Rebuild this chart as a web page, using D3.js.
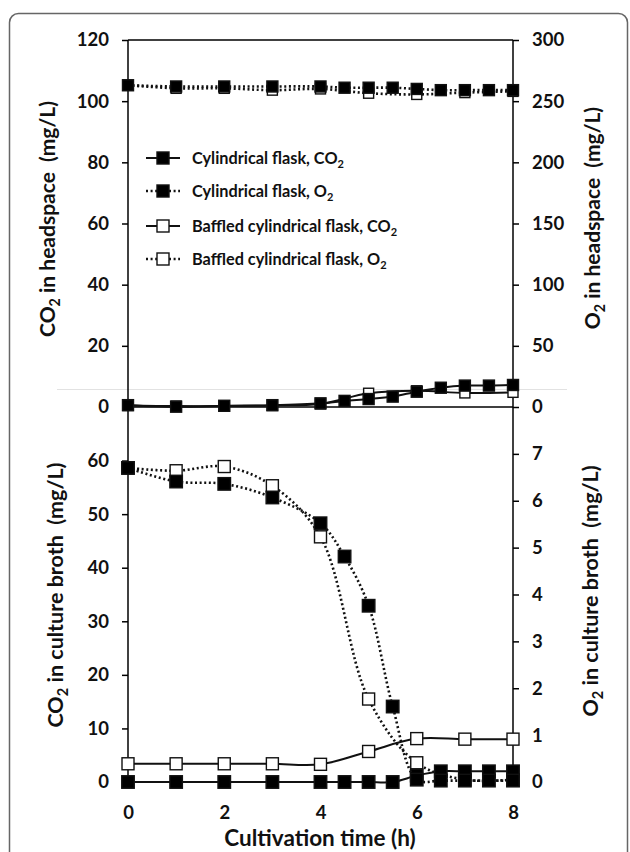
<!DOCTYPE html>
<html><head><meta charset="utf-8">
<script src="https://cdn.jsdelivr.net/npm/d3@7"></script>
<style>
html,body{margin:0;padding:0;background:#fff;}
svg{display:block;font-family:Lato,"Open Sans",sans-serif;font-weight:700;}
</style></head>
<body>
<svg id="chart" width="630" height="852"></svg>
<script>
// ---- data ----
const timeCyl = [0,1,2,3,4,4.5,5,5.5,6,6.5,7,7.5,8];
const timeBaf = [0,1,2,3,4,5,6,7,8];
// headspace (top panel)
const cylCO2Head = [0.6,0.1,0.4,0.6,1.2,2.0,2.6,3.4,5.0,6.3,7.0,7.0,7.2];
const cylO2Head  = [263,262,262,262,262,261,261,261,260,259,259,259,259];
const bafCO2Head = [0.5,0.3,0.3,0.5,1.0,4.5,5.3,4.6,4.8];
const bafO2Head  = [263,260.5,260.5,259,260,256.5,255.5,257,258];
// culture broth (bottom panel)
const cylCO2Broth = [0,0,0,0,0,0,0,0,1.2,2.0,2.0,2.0,2.0];
const cylO2Broth  = [6.70,6.41,6.36,6.07,5.52,4.81,3.76,1.61,0.05,0.03,0.03,0.03,0.03];
const bafCO2Broth = [3.4,3.4,3.4,3.4,3.3,5.7,8.1,8.0,8.0];
const bafO2Broth  = [6.70,6.64,6.73,6.32,5.23,1.77,0.41,0.05,0.05];
// ticks
const xTicks = [0,2,4,6,8];
const topLTicks = [0,20,40,60,80,100,120];
const topRTicks = [0,50,100,150,200,250,300];
const botLTicks = [0,10,20,30,40,50,60];
const botRTicks = [0,1,2,3,4,5,6,7];
const legendItems = [
  {name:"Cylindrical flask, CO", filled:true, dotted:false},
  {name:"Cylindrical flask, O", filled:true, dotted:true},
  {name:"Baffled cylindrical flask, CO", filled:false, dotted:false},
  {name:"Baffled cylindrical flask, O", filled:false, dotted:true}
];

const svg = d3.select("#chart");
// frame
svg.append("rect").attr("x",9.5).attr("y",13.5).attr("width",618).attr("height",880)
  .attr("rx",9).attr("fill","none").attr("stroke","#666").attr("stroke-width",1.5);

const x = d3.scaleLinear().domain([0,8]).range([128,513]);
const yTopL = d3.scaleLinear().domain([0,120]).range([407,40]);
const yTopR = d3.scaleLinear().domain([0,300]).range([407,40]);
const yBotL = d3.scaleLinear().domain([0,70]).range([782,407]);
const yBotR = d3.scaleLinear().domain([0,8]).range([782,407]);

// faint seam line
svg.append("line").attr("x1",57).attr("x2",567).attr("y1",389.5).attr("y2",389.5)
  .attr("stroke","#e2e2e2").attr("stroke-width",1);

const fs = 18.5;
function styleAxis(g){
  g.select(".domain").remove();
  g.selectAll(".tick line").attr("stroke","#000").attr("stroke-width",1.5);
  g.selectAll(".tick text").attr("font-size",fs).attr("font-weight",700).attr("fill","#111")
    .attr("font-family","Lato, 'Open Sans', sans-serif");
}
svg.append("g").attr("transform","translate(128,0)")
  .call(d3.axisLeft(yTopL).tickValues(topLTicks).tickSize(6).tickPadding(13)).call(styleAxis);
svg.append("g").attr("transform","translate(513,0)")
  .call(d3.axisRight(yTopR).tickValues(topRTicks).tickSize(6).tickPadding(13)).call(styleAxis);
svg.append("g").attr("transform","translate(128,0)")
  .call(d3.axisLeft(yBotL).tickValues(botLTicks).tickSize(6).tickPadding(13)).call(styleAxis);
svg.append("g").attr("transform","translate(513,0)")
  .call(d3.axisRight(yBotR).tickValues(botRTicks).tickSize(6).tickPadding(13)).call(styleAxis);
svg.append("g").attr("transform","translate(0,782)")
  .call(d3.axisBottom(x).tickValues(xTicks).tickSize(0).tickPadding(24)).call(styleAxis);

// axis lines
const ax = svg.append("g").attr("stroke","#000").attr("stroke-width",1.5);
ax.append("line").attr("x1",x(0)).attr("x2",x(0)).attr("y1",40).attr("y2",782);
ax.append("line").attr("x1",x(8)).attr("x2",x(8)).attr("y1",40).attr("y2",782);
ax.append("line").attr("x1",x(0)).attr("x2",x(8)).attr("y1",40).attr("y2",40);
ax.append("line").attr("x1",x(0)).attr("x2",x(8)).attr("y1",407).attr("y2",407);

// series drawing
const curve = d3.curveCatmullRom.alpha(0.5);
function series(times, vals, yScale, filled, dotted, size){
  const pts = times.map((t,i)=>[x(t), yScale(vals[i])]);
  svg.append("path").attr("d", d3.line().curve(curve)(pts))
    .attr("fill","none").attr("stroke","#111")
    .attr("stroke-width", dotted?2.6:2)
    .attr("stroke-dasharray", dotted?"2,2.6":null);
  svg.append("g").selectAll("rect").data(pts).join("rect")
    .attr("x",d=>d[0]-size/2).attr("y",d=>d[1]-size/2)
    .attr("width",size).attr("height",size)
    .attr("fill", filled?"#000":"#fff").attr("stroke","#111").attr("stroke-width",1.4);
}
// top panel
series(timeBaf, bafO2Head, yTopR, false, true, 10);
series(timeBaf, bafCO2Head, yTopL, false, false, 10);
series(timeCyl, cylO2Head, yTopR, true, true, 11);
series(timeCyl, cylCO2Head, yTopL, true, false, 11);
// bottom panel
series(timeBaf, bafCO2Broth, yBotL, false, false, 12);
series(timeBaf, bafO2Broth, yBotR, false, true, 12);
series(timeCyl, cylCO2Broth, yBotL, true, false, 12.5);
series(timeCyl, cylO2Broth, yBotR, true, true, 12.5);

// legend
const legY = [158,191,226,259];
legendItems.forEach((it,i)=>{
  const g = svg.append("g").attr("transform",`translate(0,${legY[i]})`);
  g.append("line").attr("x1",146).attr("x2",180).attr("y1",0).attr("y2",0)
    .attr("stroke","#111").attr("stroke-width",it.dotted?2.4:2)
    .attr("stroke-dasharray",it.dotted?"2,2.6":null);
  g.append("rect").attr("x",157).attr("y",-6).attr("width",12).attr("height",12)
    .attr("fill",it.filled?"#000":"#fff").attr("stroke","#111").attr("stroke-width",1.4);
  const t = g.append("text").attr("x",192).attr("y",6).attr("font-size",16.3).attr("fill","#111");
  t.append("tspan").text(it.name);
  t.append("tspan").text("2").attr("font-size",11).attr("dy",4);
});

// axis titles
function title(xc, yc, rot, parts, size){
  const t = svg.append("text").attr("transform",`translate(${xc},${yc}) rotate(${rot})`)
    .attr("text-anchor","middle").attr("font-size",size).attr("fill","#111");
  parts.forEach(p=>{
    const s = t.append("tspan").text(p.t);
    if(p.sub){ s.attr("font-size",size*0.68).attr("dy",5); }
    else if(p.after){ s.attr("dy",-5); }
  });
  return t;
}
title(55,219,-90,[{t:"CO"},{t:"2",sub:true},{t:" in headspace\u00a0\u00a0(mg/L)",after:true}],21);
title(600,218,-90,[{t:"O"},{t:"2",sub:true},{t:" in headspace\u00a0\u00a0(mg/L)",after:true}],21);
title(63,595,-90,[{t:"CO"},{t:"2",sub:true},{t:" in culture broth\u00a0\u00a0(mg/L)",after:true}],21.5);
title(598,591,-90,[{t:"O"},{t:"2",sub:true},{t:" in culture broth\u00a0\u00a0(mg/L)",after:true}],21.5);
svg.append("text").attr("x",320).attr("y",846).attr("text-anchor","middle")
  .attr("font-size",22.5).attr("fill","#111").text("Cultivation time (h)");
</script>
</body></html>
